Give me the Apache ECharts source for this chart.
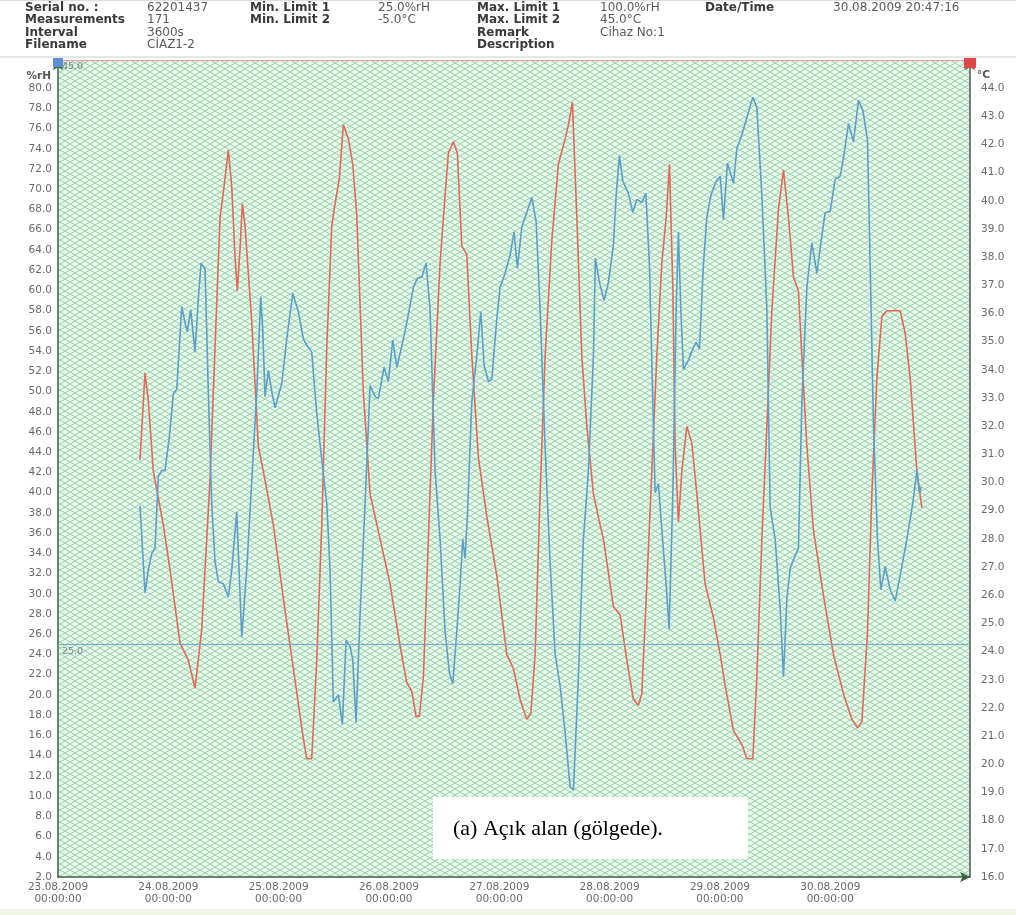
<!DOCTYPE html>
<html>
<head>
<meta charset="utf-8">
<script src="https://cdn.jsdelivr.net/npm/echarts@6/dist/echarts.min.js"></script>
<style>
html,body{margin:0;padding:0;background:#ffffff;}
#c{width:1016px;height:915px;}
</style>
</head>
<body>
<div id="c"></div>
<script>
// ---------- DATA ----------
const xTickLabels = ['23.08.2009','24.08.2009','25.08.2009','26.08.2009','27.08.2009','28.08.2009','29.08.2009','30.08.2009'];
const xTickTime = '00:00:00';

// hours since 23.08.2009 00:00:00
const rhHours = [17.84,18.93,19.65,20.39,21.11,21.82,22.56,23.28,24.22,25.09,25.83,26.39,26.92,27.63,28.13,28.87,29.81,30.53,31.12,31.99,32.70,33.44,34.16,34.88,35.97,37.06,37.80,38.88,39.97,41.06,42.15,43.24,44.11,44.54,45.04,45.76,46.50,47.22,48.68,49.76,51.07,52.29,53.38,54.11,55.20,56.29,57.38,58.47,59.18,59.90,60.99,61.86,62.67,63.54,64.12,64.84,65.71,66.80,67.89,68.98,69.69,70.93,71.87,72.83,73.70,74.79,75.87,77.31,78.18,79.14,80.07,80.94,82.03,83.12,84.21,85.14,85.88,86.75,87.47,88.06,88.56,89.06,90.02,91.10,91.98,92.69,93.63,94.37,95.46,96.17,97.26,98.35,99.22,99.94,100.90,101.98,103.07,104.01,104.88,105.97,107.05,108.14,109.23,110.32,111.41,112.13,113.21,114.30,115.39,116.48,116.90,117.79,118.80,119.74,120.83,121.42,122.14,122.87,124.09,125.05,125.92,127.01,127.88,128.66,129.40,129.90,130.62,131.36,132.30,132.95,133.76,134.47,134.97,135.49,136.06,137.15,137.89,138.82,139.54,140.41,141.15,142.02,143.18,144.05,144.77,145.63,146.22,146.94,147.68,148.77,149.86,151.16,152.03,153.12,154.21,154.92,156.01,157.10,157.82,158.56,159.28,160.36,161.08,161.82,162.91,164.00,165.09,166.17,166.89,167.98,169.07,170.16,170.88,171.97,173.05,174.14,175.09,176.10,176.68,177.40,178.27,179.01,179.95,181.04,182.12,183.21,184.67,185.97,186.85,187.41,187.84];
const rhValues = [38.7,30.1,32.4,34.0,34.5,41.6,42.2,42.2,45.5,49.8,50.2,54.4,58.4,56.8,55.9,58.1,53.9,59.2,62.7,62.1,50.0,38.9,33.2,31.2,31.0,29.7,32.4,38.1,25.7,32.4,41.2,50.0,59.4,56.1,49.5,52.1,50.0,48.4,50.8,55.2,59.7,57.9,55.2,54.6,53.9,47.8,43.3,38.9,32.4,19.3,20.0,17.1,25.4,24.8,23.5,17.3,27.9,38.9,50.6,49.5,49.3,52.4,51.0,55.1,52.4,54.5,56.8,60.3,61.2,61.3,62.7,58.1,42.2,35.4,26.3,22.2,21.1,26.3,30.9,35.4,33.5,37.7,49.0,53.5,57.9,52.6,51.0,51.2,57.2,60.3,61.7,63.5,65.8,62.2,66.3,67.7,69.2,66.8,58.1,44.5,33.1,24.1,20.9,16.3,10.9,10.6,21.8,35.4,42.2,53.5,63.2,60.8,59.0,60.8,64.5,69.4,73.3,70.8,69.6,67.7,69.0,68.7,69.6,62.6,49.0,40.0,40.9,36.3,30.9,26.5,40.0,58.1,65.8,58.1,52.2,53.1,54.0,54.9,54.2,62.6,67.2,69.4,70.8,71.3,67.0,72.6,71.7,70.6,74.0,75.4,77.1,79.1,78.1,69.4,58.1,38.6,35.4,28.6,21.8,29.5,32.5,33.8,34.5,49.0,60.3,64.7,61.7,65.4,67.7,67.8,71.0,71.3,73.1,76.5,74.7,78.8,77.8,74.9,62.6,46.7,35.4,30.4,32.7,30.4,29.3,31.8,35.4,39.0,42.2,40.0,40.6];

const tempHours = [17.84,18.93,19.65,20.74,22.91,24.37,26.55,28.35,29.81,31.27,33.07,34.16,35.25,35.97,37.06,37.80,38.51,39.01,39.60,40.10,40.69,42.15,43.58,44.67,46.85,49.02,51.20,53.38,54.11,55.20,56.29,57.38,58.47,59.55,60.27,61.21,62.08,63.17,64.12,64.99,66.43,67.89,70.06,72.24,74.42,75.87,76.96,77.90,78.62,79.49,80.57,81.66,83.12,84.21,84.93,86.01,86.88,87.84,88.93,90.02,91.45,93.28,95.46,97.63,99.07,100.53,101.98,102.86,103.79,104.88,105.97,107.43,108.86,110.32,111.04,111.91,112.87,113.95,115.04,116.48,117.93,118.65,120.83,122.29,123.74,125.18,126.27,127.01,128.10,129.18,130.27,131.36,132.30,133.02,133.76,134.25,134.97,135.71,136.80,137.89,138.97,140.78,142.59,144.05,145.13,146.94,148.77,149.86,151.16,152.03,153.12,154.21,155.29,156.73,157.82,158.91,160.00,161.08,161.82,162.91,164.35,166.52,168.70,170.88,172.70,173.92,174.88,176.10,177.05,178.14,179.23,180.32,182.49,183.21,184.30,185.39,186.85,187.93];
const tempValues = [30.8,33.9,32.9,30.4,28.5,26.9,24.3,23.7,22.7,24.8,30.1,34.8,39.4,40.3,41.8,40.5,38.0,36.8,38.3,39.9,39.1,35.7,31.3,30.4,28.5,25.9,23.4,20.9,20.2,20.2,23.7,28.5,34.8,39.1,39.9,40.8,42.7,42.2,41.3,39.5,33.2,29.6,28.0,26.4,24.2,22.9,22.6,21.7,21.7,23.1,28.0,32.9,37.8,40.2,41.7,42.1,41.7,38.4,38.1,34.5,30.9,28.8,26.7,23.9,23.4,22.3,21.6,21.8,23.9,29.6,34.5,38.6,41.3,42.2,42.7,43.5,39.4,34.5,32.0,29.6,28.5,28.0,25.6,25.3,23.7,22.3,22.1,22.5,26.4,30.4,34.5,37.8,39.4,41.3,36.9,31.3,28.6,30.4,32.0,31.4,29.6,26.4,25.2,23.9,22.8,21.2,20.7,20.2,20.2,23.1,28.0,32.0,36.1,39.7,41.1,39.4,37.3,36.8,34.5,31.3,28.3,26.0,23.9,22.5,21.6,21.3,21.5,24.7,29.6,33.7,35.9,36.1,36.1,36.1,35.3,33.7,30.4,29.1];

const rhLimitMin = 25.0;
const tempLimitMax = 45.0;

const headerCol1 = ['Serial no. :','Measurements','Interval','Filename'];
const headerCol2 = ['62201437','171','3600s','CİAZ1-2'];
const headerCol3 = ['Min. Limit 1','Min. Limit 2'];
const headerCol4 = ['25.0%rH','-5.0°C'];
const headerCol5 = ['Max. Limit 1','Max. Limit 2','Remark','Description'];
const headerCol6 = ['100.0%rH','45.0°C','Cihaz No:1'];
const headerCol7 = ['Date/Time'];
const headerCol8 = ['30.08.2009 20:47:16'];

const annotationText = '(a) Açık alan (gölgede).';

// ---------- CHART ----------
const chart = echarts.init(document.getElementById('c'));

const tile = document.createElement('canvas');
tile.width = 10; tile.height = 6;
const g = tile.getContext('2d');
g.fillStyle = '#e8f8ef';
g.fillRect(0, 0, 10, 6);
g.strokeStyle = '#97d3a4';
g.lineWidth = 1;
g.beginPath();
g.moveTo(0, 0); g.lineTo(10, 6);
g.moveTo(0, 6); g.lineTo(10, 0);
g.stroke();

const rhData = rhHours.map((h, i) => [h, rhValues[i]]);
const tempData = tempHours.map((h, i) => [h, tempValues[i]]);

const rowY = [7.5, 20, 32.5, 44.8];
const headerGraphics = [];
function addCol(arr, x, bold) {
  arr.forEach((t, i) => {
    headerGraphics.push({
      type: 'text', x: x, y: rowY[i],
      style: {
        text: t,
        font: (bold ? 'bold ' : '') + '12px "DejaVu Sans"',
        fill: bold ? '#3a3a3a' : '#5a5a5a',
        textVerticalAlign: 'middle'
      }
    });
  });
}
addCol(headerCol1, 25, true);
addCol(headerCol2, 147, false);
addCol(headerCol3, 250, true);
addCol(headerCol4, 378, false);
addCol(headerCol5, 477, true);
addCol(headerCol6, 600, false);
addCol(headerCol7, 705, true);
addCol(headerCol8, 833, false);

const axisFont = '"DejaVu Sans"';

const option = {
  backgroundColor: '#ffffff',
  animation: false,
  grid: {
    left: 58, right: 46, top: 60, bottom: 38,
    show: true,
    backgroundColor: { image: tile, repeat: 'repeat' },
    borderWidth: 0
  },
  xAxis: {
    type: 'value',
    min: 0,
    max: 198.4,
    interval: 24,
    axisLine: { show: true, lineStyle: { color: '#3d5f42', width: 1.5 }, symbol: ['none', 'arrow'], symbolSize: [8, 10] },
    axisTick: { show: false },
    splitLine: { show: false },
    axisLabel: {
      margin: 4,
      color: '#6a6a6a',
      fontFamily: axisFont,
      fontSize: 10.5,
      lineHeight: 12,
      showMaxLabel: false,
      formatter: function (v) {
        const idx = Math.round(v / 24);
        if (idx >= 0 && idx < xTickLabels.length && Math.abs(v - idx * 24) < 0.01) {
          return xTickLabels[idx] + '\n' + xTickTime;
        }
        return '';
      }
    }
  },
  yAxis: [
    {
      type: 'value',
      position: 'left',
      min: 2,
      max: 82.786,
      interval: 2,
      axisLine: { show: true, lineStyle: { color: '#2f6a3c', width: 1.5 }, symbol: ['none', 'arrow'], symbolSize: [8, 10] },
      axisTick: { show: false },
      splitLine: { show: false },
      axisLabel: {
        margin: 6,
        color: '#6a6a6a',
        fontFamily: axisFont,
        fontSize: 10.5,
        showMaxLabel: false,
        formatter: function (v) { return v > 80.01 ? '' : v.toFixed(1); }
      }
    },
    {
      type: 'value',
      position: 'right',
      min: 16,
      max: 45,
      interval: 1,
      axisLine: { show: true, lineStyle: { color: '#555555', width: 1.5 }, symbol: ['none', 'arrow'], symbolSize: [8, 10] },
      axisTick: { show: false },
      splitLine: { show: false },
      axisLabel: {
        margin: 11,
        color: '#6a6a6a',
        fontFamily: axisFont,
        fontSize: 10.5,
        showMaxLabel: false,
        formatter: function (v) { return v > 44.01 ? '' : v.toFixed(1); }
      }
    }
  ],
  series: [
    {
      name: '°C',
      type: 'line',
      yAxisIndex: 1,
      data: tempData,
      showSymbol: false,
      lineStyle: { color: '#e26a58', width: 1.6 },
      itemStyle: { color: '#e26a58' },
      z: 3,
      markLine: {
        silent: true,
        symbol: 'none',
        lineStyle: { color: '#e6a0a0', width: 1, type: 'solid' },
        label: { position: 'insideStartBottom', formatter: '45.0', color: '#7a7a7a', fontFamily: axisFont, fontSize: 9.5, distance: [4, 2] },
        data: [{ yAxis: tempLimitMax }]
      }
    },
    {
      name: '%rH',
      type: 'line',
      yAxisIndex: 0,
      data: rhData,
      showSymbol: false,
      lineStyle: { color: '#5c9fcb', width: 1.6 },
      itemStyle: { color: '#5c9fcb' },
      z: 4,
      markLine: {
        silent: true,
        symbol: 'none',
        lineStyle: { color: '#76a9c9', width: 1, type: 'solid' },
        label: { position: 'insideStartBottom', formatter: '25.0', color: '#6f8a9a', fontFamily: axisFont, fontSize: 9.5, distance: [4, 2] },
        data: [{ yAxis: rhLimitMin }]
      }
    }
  ],
  graphic: headerGraphics.concat([
    { type: 'line', shape: { x1: 0, y1: 57, x2: 1016, y2: 57 }, style: { stroke: '#cfcfcf', lineWidth: 1 } },
    { type: 'line', shape: { x1: 0, y1: 0.5, x2: 1016, y2: 0.5 }, style: { stroke: '#dddddd', lineWidth: 1 } },
    { type: 'text', x: 51, y: 76, style: { text: '%rH', font: 'bold 10.5px "DejaVu Sans"', fill: '#555555', textAlign: 'right', textVerticalAlign: 'middle' } },
    { type: 'text', x: 977, y: 75, style: { text: '°C', font: 'bold 10.5px "DejaVu Sans"', fill: '#555555', textAlign: 'left', textVerticalAlign: 'middle' } },
    { type: 'rect', shape: { x: 53, y: 58, width: 10, height: 9 }, style: { fill: '#5b8ed6' }, z: 100 },
    { type: 'rect', shape: { x: 964, y: 58, width: 12, height: 10 }, style: { fill: '#e04848' }, z: 100 },
    { type: 'rect', shape: { x: 0, y: 909, width: 1016, height: 6 }, style: { fill: '#eef5e4' }, z: 0 },
    { type: 'rect', shape: { x: 433, y: 797, width: 315, height: 62 }, style: { fill: '#ffffff' }, z: 100 },
    { type: 'text', x: 453, y: 829, style: { text: annotationText, font: '22px "Liberation Serif"', fill: '#000000', textVerticalAlign: 'middle' }, z: 101 }
  ])
};

chart.setOption(option);
</script>
</body>
</html>
